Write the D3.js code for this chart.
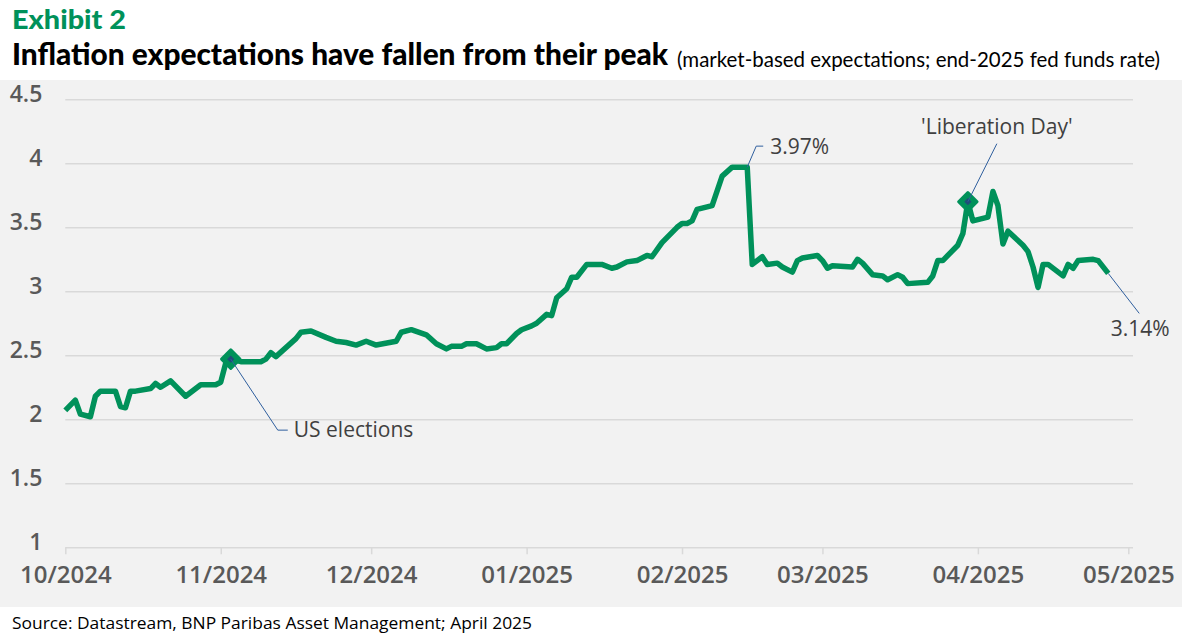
<!DOCTYPE html>
<html lang="en">
<meta charset="utf-8">
<title>Exhibit 2</title>
<style>
    body { margin: 0; background: white; }
    svg  { display: block; }
</style>
<script src="https://d3js.org/d3.v7.min.js"></script>
<body>
<svg id="canvas"></svg>
<script>

    ///////////////////// Data ////////////////////////
    var dates = [
        "2024-10-01","2024-10-03","2024-10-04","2024-10-06","2024-10-07","2024-10-08",
        "2024-10-11","2024-10-12","2024-10-13","2024-10-14","2024-10-15","2024-10-18",
        "2024-10-19","2024-10-20","2024-10-22","2024-10-25","2024-10-28","2024-10-31",
        "2024-11-01","2024-11-02","2024-11-03","2024-11-05","2024-11-09","2024-11-10",
        "2024-11-11","2024-11-12","2024-11-16","2024-11-17","2024-11-19","2024-11-22",
        "2024-11-24","2024-11-26","2024-11-28","2024-11-30","2024-12-02","2024-12-06",
        "2024-12-07","2024-12-09","2024-12-12","2024-12-14","2024-12-16","2024-12-17",
        "2024-12-19","2024-12-20","2024-12-22","2024-12-24","2024-12-26","2024-12-27",
        "2024-12-28","2024-12-30","2024-12-31","2025-01-02","2025-01-03","2025-01-05",
        "2025-01-06","2025-01-07","2025-01-09","2025-01-10","2025-01-11","2025-01-13",
        "2025-01-16","2025-01-18","2025-01-19","2025-01-21","2025-01-23","2025-01-25",
        "2025-01-26","2025-01-28","2025-01-31","2025-02-01","2025-02-02","2025-02-03",
        "2025-02-04","2025-02-07","2025-02-09","2025-02-11","2025-02-14","2025-02-15",
        "2025-02-17","2025-02-18","2025-02-20","2025-02-21","2025-02-23","2025-02-24",
        "2025-02-25","2025-02-28","2025-03-01","2025-03-02","2025-03-03","2025-03-07",
        "2025-03-08","2025-03-09","2025-03-11","2025-03-13","2025-03-14","2025-03-16",
        "2025-03-17","2025-03-18","2025-03-22","2025-03-23","2025-03-24","2025-03-25",
        "2025-03-28","2025-03-29","2025-03-30","2025-03-31","2025-04-03","2025-04-04",
        "2025-04-05","2025-04-06","2025-04-07","2025-04-10","2025-04-11","2025-04-12",
        "2025-04-13","2025-04-14","2025-04-15","2025-04-18","2025-04-19","2025-04-20",
        "2025-04-21","2025-04-24","2025-04-25","2025-04-27"
    ];
    var values = [
        2.07, 2.15, 2.04, 2.02, 2.18, 2.22,
        2.22, 2.10, 2.09, 2.22, 2.22, 2.24,
        2.28, 2.25, 2.30, 2.18, 2.27, 2.27,
        2.29, 2.44, 2.47, 2.45, 2.45, 2.47,
        2.52, 2.49, 2.63, 2.68, 2.69, 2.64,
        2.61, 2.60, 2.58, 2.61, 2.58, 2.61,
        2.68, 2.70, 2.66, 2.59, 2.55, 2.57,
        2.57, 2.59, 2.59, 2.55, 2.56, 2.59,
        2.59, 2.67, 2.70, 2.73, 2.75, 2.82,
        2.81, 2.95, 3.02, 3.11, 3.11, 3.21,
        3.21, 3.18, 3.19, 3.23, 3.24, 3.28,
        3.27, 3.38, 3.50, 3.53, 3.53, 3.55,
        3.64, 3.67, 3.90, 3.97, 3.97, 3.21,
        3.27, 3.21, 3.22, 3.19, 3.15, 3.24,
        3.26, 3.28, 3.24, 3.18, 3.20, 3.19,
        3.25, 3.22, 3.13, 3.12, 3.09, 3.13,
        3.11, 3.06, 3.07, 3.12, 3.24, 3.24,
        3.36, 3.45, 3.70, 3.55, 3.58, 3.78,
        3.67, 3.37, 3.47, 3.36, 3.31, 3.19,
        3.03, 3.21, 3.21, 3.12, 3.21, 3.18,
        3.24, 3.25, 3.24, 3.14
    ];
    var y_ticks      = [1, 1.5, 2, 2.5, 3, 3.5, 4, 4.5];
    var x_tick_dates = ["2024-10-01","2024-11-01","2024-12-01","2025-01-01",
                        "2025-02-01","2025-03-01","2025-04-01","2025-05-01"];
    var x_tick_labels = ["10/2024","11/2024","12/2024","01/2025",
                         "02/2025","03/2025","04/2025","05/2025"];
    // annotated points
    var marker_dates = ["2024-11-03", "2025-03-30"];
    var ann_dates    = ["2024-11-03", "2025-02-14", "2025-03-30", "2025-04-27"];
    var ann_labels   = ["US elections", "3.97%", "'Liberation Day'", "3.14%"];
    ///////////////////////////////////////////////////

    //////////////// String Variables /////////////////
    var exhibit_text  = "Exhibit 2";
    var title_text    = "Inflation expectations have fallen from their peak";
    var subtitle_text = "(market-based expectations; end-2025 fed funds rate)";
    var source_text   = "Source: Datastream, BNP Paribas Asset Management; April 2025";
    ///////////////////////////////////////////////////

    ///////// Position and Dimension Variables ////////
    var dimensions = [1182, 635];
    var bg_top     = 80;
    var bg_bottom  = 607;
    var plot_left  = 65.3;
    var plot_right = 1128.3;
    var grid_right = 1133;
    var plot_top   = 99.3;
    var plot_bot   = 547.3;
    ///////////////////////////////////////////////////

    ///////////////// Style Variables /////////////////
    var green       = '#00915a';
    var bg_color    = '#f2f2f2';
    var grid_color  = '#d9d9d9';
    var axis_font   = '#595959';
    var ann_font    = '#404040';
    var leader_col  = '#2f5f9e';
    var marker_in   = '#1f4e79';
    var font        = "'Open Sans', sans-serif";
    ///////////////////////////////////////////////////

    var parse = d3.timeParse("%Y-%m-%d");
    var data  = dates.map(function (d, i) { return { date: parse(d), value: values[i] }; });
    function value_at(d) { return values[dates.indexOf(d)]; }

    var x = d3.scaleTime()
        .domain([parse("2024-10-01"), parse("2025-05-01")])
        .range([plot_left, plot_right]);
    var y = d3.scaleLinear()
        .domain([1, 4.5])
        .range([plot_bot, plot_top]);

    //////////////////// BG layer /////////////////////
    var canvas = d3.select("#canvas")
        .attr('width',  dimensions[0])
        .attr('height', dimensions[1]);
    canvas.append("rect")
        .attr('x', 0).attr('y', bg_top)
        .attr('width', dimensions[0])
        .attr('height', bg_bottom - bg_top)
        .attr('fill', bg_color);
    ///////////////////////////////////////////////////

    ///////////////////// titles //////////////////////
    canvas.append("text")
        .attr('x', 12).attr('y', 29)
        .text(exhibit_text)
        .attr('font-family', "Lato, sans-serif")
        .attr('font-weight', 900)
        .attr('font-size', 27)
        .attr('fill', green)
        .attr('textLength', 114)
        .attr('lengthAdjust', 'spacingAndGlyphs');
    canvas.append("text")
        .attr('x', 12).attr('y', 65)
        .text(title_text)
        .attr('font-family', "Lato, sans-serif")
        .attr('font-weight', 900)
        .attr('font-size', 30)
        .attr('fill', 'black')
        .attr('textLength', 656)
        .attr('lengthAdjust', 'spacingAndGlyphs');
    canvas.append("text")
        .attr('x', 677).attr('y', 67)
        .text(subtitle_text)
        .attr('font-family', "Lato, sans-serif")
        .attr('font-size', 21)
        .attr('fill', 'black')
        .attr('textLength', 483)
        .attr('lengthAdjust', 'spacingAndGlyphs');
    canvas.append("text")
        .attr('x', 12).attr('y', 629)
        .text(source_text)
        .attr('font-family', font)
        .attr('font-size', 17)
        .attr('fill', 'black')
        .attr('textLength', 520)
        .attr('lengthAdjust', 'spacingAndGlyphs');
    ///////////////////////////////////////////////////

    //////////////////// gridlines ////////////////////
    var y_axis = canvas.append("g")
        .attr('transform', 'translate(' + plot_left + ',0)')
        .call(d3.axisLeft(y)
            .tickValues(y_ticks)
            .tickSize(-(grid_right - plot_left))
            .tickPadding(23)
            .tickFormat(d3.format("")));
    y_axis.select(".domain").remove();
    y_axis.selectAll(".tick line")
        .attr('stroke', grid_color)
        .attr('stroke-width', 1.5);
    y_axis.selectAll(".tick text")
        .attr('font-family', font)
        .attr('font-weight', 600)
        .attr('font-size', 23)
        .attr('fill', axis_font)
        .attr('dy', '0.1em');

    var x_axis = canvas.append("g")
        .attr('transform', 'translate(0,' + plot_bot + ')')
        .call(d3.axisBottom(x)
            .tickValues(x_tick_dates.map(parse))
            .tickSize(7)
            .tickPadding(12)
            .tickFormat(function (d, i) { return x_tick_labels[i]; }));
    x_axis.select(".domain").remove();
    x_axis.selectAll(".tick line")
        .attr('stroke', grid_color)
        .attr('stroke-width', 1.5);
    x_axis.selectAll(".tick text")
        .attr('font-family', font)
        .attr('font-weight', 600)
        .attr('font-size', 24)
        .attr('fill', axis_font);
    ///////////////////////////////////////////////////

    /////////////////////// line //////////////////////
    var line = d3.line()
        .x(function (d) { return x(d.date); })
        .y(function (d) { return y(d.value); });
    canvas.append("path")
        .datum(data)
        .attr('d', line)
        .attr('fill', 'none')
        .attr('stroke', green)
        .attr('stroke-width', 5.5)
        .attr('stroke-linejoin', 'round');
    ///////////////////////////////////////////////////

    ///////////////////// leaders /////////////////////
    // offsets of elbow, end of leader and text anchor from the point
    var leader_pts = [
        [[47, 71], [57, 71]],
        [[9, -21], [16, -21]],
        [[29, -58]],
        [[31, 40]]
    ];
    var text_pos = [[63, 78, 'start'], [23, -13, 'start'], [29, -68, 'middle'], [32, 63, 'middle']];

    ///////////////////// markers /////////////////////
    marker_dates.forEach(function (d) {
        var g = canvas.append("g")
            .attr('transform', 'translate(' + x(parse(d)) + ',' + y(value_at(d)) + ') rotate(45)');
        g.append("path")
            .attr('d', d3.symbol().type(d3.symbolSquare).size(170)())
            .attr('fill', green)
            .attr('stroke', green)
            .attr('stroke-width', 3)
            .attr('stroke-linejoin', 'round');
        g.append("path")
            .attr('d', d3.symbol().type(d3.symbolSquare).size(26)())
            .attr('fill', marker_in);
    });
    ///////////////////////////////////////////////////

    ann_dates.forEach(function (d, i) {
        var px = x(parse(d)), py = y(value_at(d));
        var pts = [[px, py]].concat(leader_pts[i].map(function (o) { return [px + o[0], py + o[1]]; }));
        canvas.append("path")
            .attr('d', d3.line()(pts))
            .attr('fill', 'none')
            .attr('stroke', leader_col)
            .attr('stroke-width', 1);
        canvas.append("text")
            .attr('x', px + text_pos[i][0])
            .attr('y', py + text_pos[i][1])
            .attr('text-anchor', text_pos[i][2])
            .text(ann_labels[i])
            .attr('font-family', font)
            .attr('font-size', 21)
            .attr('fill', ann_font);
    });
    ///////////////////////////////////////////////////

</script>
</body>
</html>
